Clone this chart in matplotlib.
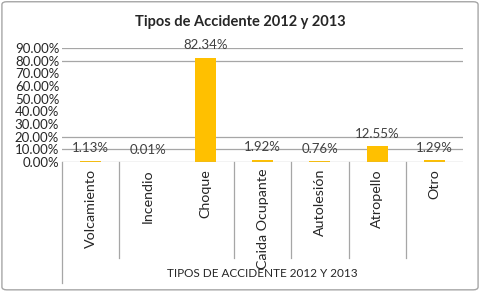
import matplotlib.pyplot as plt
from matplotlib.patches import FancyBboxPatch

categorias = ['Volcamiento', 'Incendio', 'Choque', 'Caida Ocupante',
              'Autolesión', 'Atropello', 'Otro']
valores = [1.13, 0.01, 82.34, 1.92, 0.76, 12.55, 1.29]
etiquetas = ['1.13%', '0.01%', '82.34%', '1.92%', '0.76%', '12.55%', '1.29%']
yticks = [0, 10, 20, 30, 40, 50, 60, 70, 80, 90]
grid_visibles = [10, 20, 80, 90]
separadores = [1, 3, 4, 5, 6]   # límites de categoría que se ven

plt.rcParams['font.family'] = ['Lato', 'DejaVu Sans']

fig = plt.figure(figsize=(4.8, 2.91), dpi=100)

# marco exterior
fig.patches.append(FancyBboxPatch((0.004, 0.004), 0.992, 0.99,
                                  boxstyle='round,pad=0,rounding_size=0.01',
                                  transform=fig.transFigure, fill=False,
                                  edgecolor='#A6A6A6', linewidth=1))

ax = fig.add_axes([0.129, 0.443, 0.836, 0.392])
x = range(len(categorias))
ax.bar(x, valores, width=0.37, color='#FFC000', zorder=3)

for g in grid_visibles:
    ax.axhline(g, color='#A6A6A6', linewidth=0.9, zorder=1)
ax.axhline(0, color='#A6A6A6', linewidth=0.9, zorder=4)

for i, v in enumerate(valores):
    ax.text(i, v + 5, etiquetas[i], ha='center', va='bottom',
            fontsize=9.5, color='#404040', zorder=5)

ax.set_xlim(-0.5, len(categorias) - 0.5)
ax.set_ylim(0, 90)
ax.set_yticks(yticks)
ax.set_yticklabels(['%.2f%%' % t for t in yticks], fontsize=9.5, color='#262626')
ax.tick_params(axis='y', length=0, pad=2)
ax.set_xticks([])
for s in ax.spines.values():
    s.set_visible(False)

# línea izquierda y separadores de categorías
ax.plot([-0.5, -0.5], [0, -1.06], transform=ax.get_xaxis_transform(),
        color='#A6A6A6', linewidth=0.9, clip_on=False)
for b in separadores:
    ax.plot([b - 0.5, b - 0.5], [0, -0.84], transform=ax.get_xaxis_transform(),
            color='#A6A6A6', linewidth=0.9, clip_on=False)

for i, c in enumerate(categorias):
    ax.text(i, -0.06, c, transform=ax.get_xaxis_transform(), rotation=90,
            ha='center', va='top', fontsize=10.3, color='#262626')

ax.text(0.5, -0.98, 'TIPOS DE ACCIDENTE 2012 Y 2013', transform=ax.transAxes,
        ha='center', va='center', fontsize=8.5, color='#262626')

fig.text(0.5, 0.924, 'Tipos de Accidente 2012 y 2013', ha='center', va='center',
         fontsize=10.5, fontweight='bold', color='#262626')

fig.savefig('out.png', dpi=100)
